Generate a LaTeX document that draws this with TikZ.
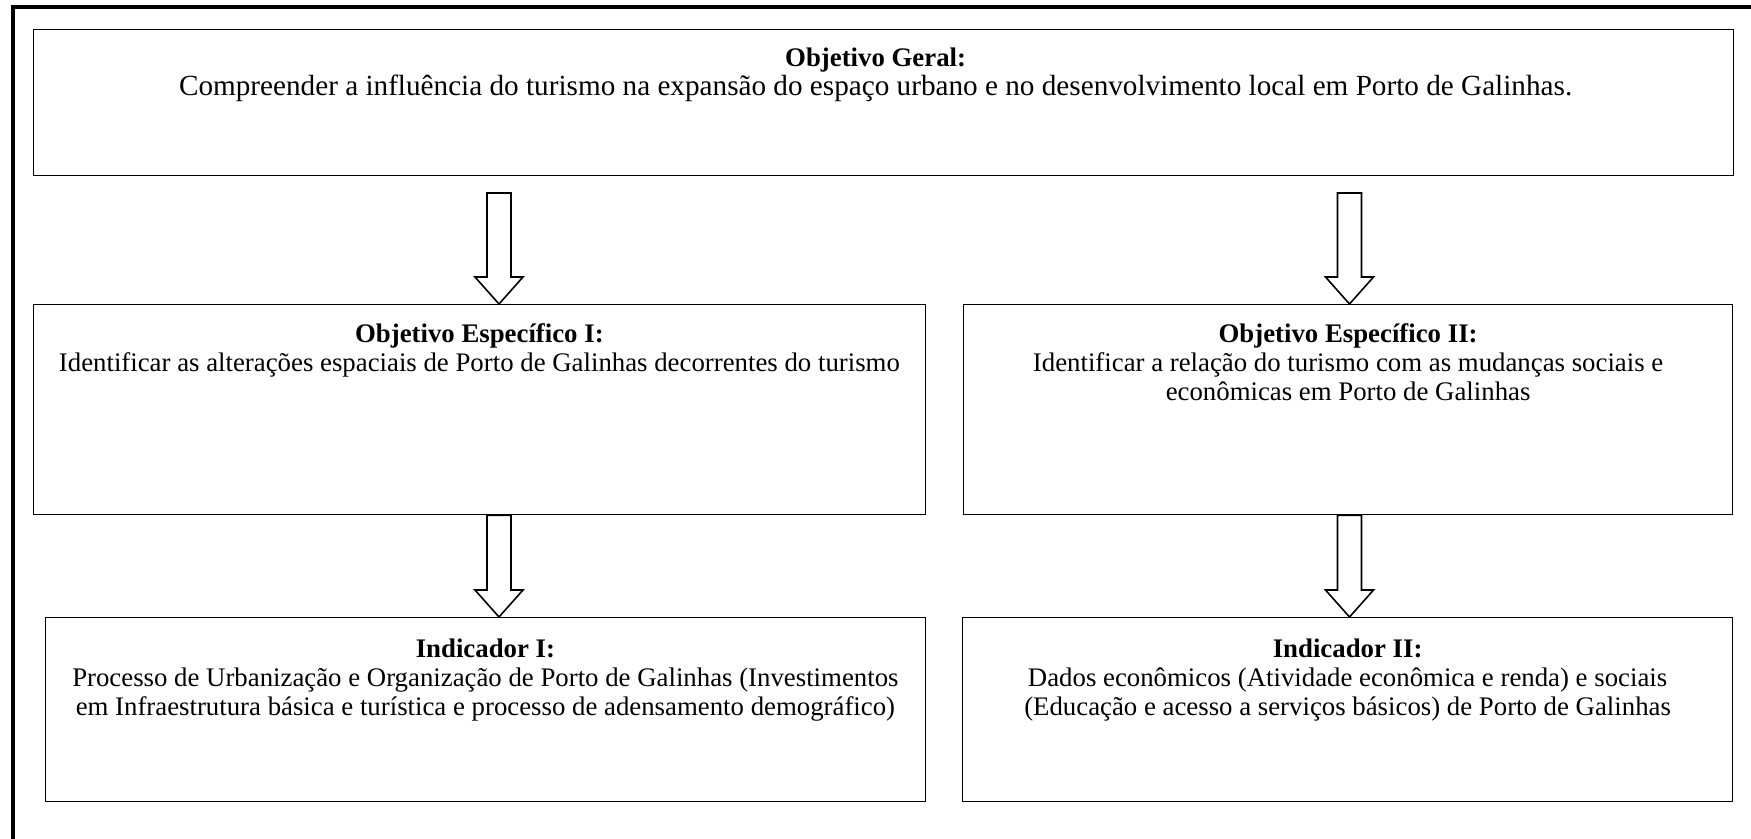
\documentclass[tikz,border=0pt]{standalone}
\usepackage{fontspec}
\setmainfont{Liberation Serif}
\usetikzlibrary{calc}
\tikzset{
  box/.style={draw, line width=0.6pt, rectangle, inner sep=0pt, anchor=north west},
  txt/.style={anchor=north, inner sep=0pt, align=center, font=\fontsize{13.4}{14.5}\selectfont},
  frameline/.style={line width=2pt},
  barrow/.style={draw, fill=white, line width=0.8pt, line join=miter},
}
\newcommand\hollowarrow[2]{%
  \draw[barrow] ($(#1)+(-12,0)$) -- ($(#2)+(-12,-27)$) -- ($(#2)+(-24,-27)$) -- (#2)
    -- ($(#2)+(24,-27)$) -- ($(#2)+(12,-27)$) -- ($(#1)+(12,0)$) -- cycle;}
\begin{document}
\begin{tikzpicture}[x=0.5pt,y=-0.5pt]
\useasboundingbox (0,0) rectangle (1751,839);
% outer frame (top and left only)
\draw[frameline] (13,839) -- (13,7) -- (1751,7);
% boxes
\node[box, minimum width=850pt, minimum height=73pt] (og) at (33,29) {};
\node[box, minimum width=445.8pt, minimum height=105pt] (oe1) at (33,304) {};
\node[box, minimum width=384.5pt, minimum height=105pt] (oe2) at (963,304) {};
\node[box, minimum width=439.8pt, minimum height=92pt] (in1) at (45,617) {};
\node[box, minimum width=385pt, minimum height=92pt] (in2) at (962,617) {};
% texts
\node[txt] (tog) at ($(og.north)+(-8,18.5)$) {\textbf{Objetivo Geral:}\\{\fontsize{14.6}{14.5}\selectfont Compreender a influência do turismo na expansão do espaço urbano e no desenvolvimento local em Porto de Galinhas.}};
\node[txt] (toe1) at ($(oe1.north)+(0,19.5)$) {\textbf{Objetivo Específico I:}\\Identificar as alterações espaciais de Porto de Galinhas decorrentes do turismo};
\node[txt] (toe2) at ($(oe2.north)+(0,19.5)$) {\textbf{Objetivo Específico II:}\\Identificar a relação do turismo com as mudanças sociais e\\econômicas em Porto de Galinhas};
\node[txt] (tin1) at ($(in1.north)+(0,21.5)$) {\textbf{Indicador I:}\\Processo de Urbanização e Organização de Porto de Galinhas (Investimentos\\em Infraestrutura básica e turística e processo de adensamento demográfico)};
\node[txt] (tin2) at ($(in2.north)+(0,21.5)$) {\textbf{Indicador II:}\\Dados econômicos (Atividade econômica e renda) e sociais\\(Educação e acesso a serviços básicos) de Porto de Galinhas};
% arrows
\coordinate (a1) at (499,193);
\coordinate (a2) at (1349.5,193);
\coordinate (t1) at (a1 |- oe1.north);
\coordinate (t2) at (a2 |- oe2.north);
\coordinate (b1) at (a1 |- oe1.south);
\coordinate (b2) at (a2 |- oe2.south);
\coordinate (u1) at (a1 |- in1.north);
\coordinate (u2) at (a2 |- in2.north);
\hollowarrow{a1}{t1}
\hollowarrow{a2}{t2}
\hollowarrow{b1}{u1}
\hollowarrow{b2}{u2}
\end{tikzpicture}
\end{document}
